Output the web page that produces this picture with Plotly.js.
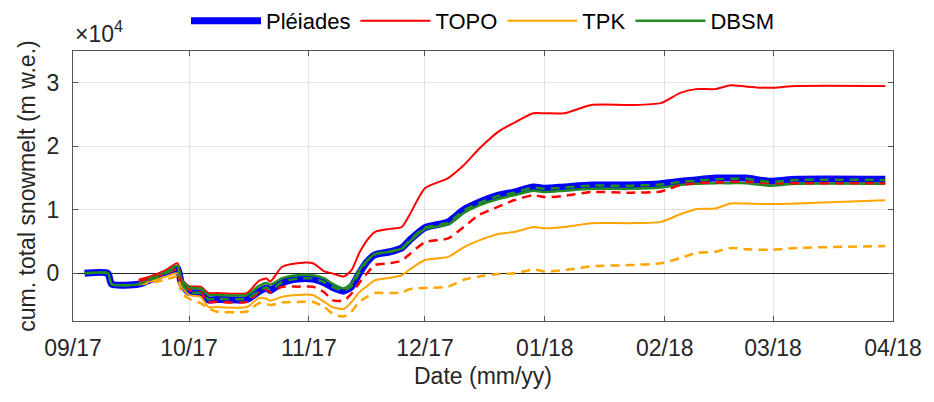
<!DOCTYPE html>
<html>
<head>
<meta charset="utf-8">
<script src="https://cdn.plot.ly/plotly-3.0.1.min.js"></script>
<style>html,body{margin:0;padding:0;background:#fff;}#chart{width:934px;height:402px;}</style>
</head>
<body>
<div id="chart"></div>
<script>
// Cumulative total snowmelt, values in units of 10^4 m w.e.
const dates = ['2017-09-04','2017-09-10','2017-09-11','2017-09-18','2017-09-21','2017-09-25','2017-09-28','2017-09-29',
  '2017-10-01','2017-10-04','2017-10-06','2017-10-08','2017-10-16','2017-10-19','2017-10-21','2017-10-22','2017-10-25','2017-10-29',
  '2017-11-02','2017-11-05','2017-11-07','2017-11-10','2017-11-12','2017-11-14','2017-11-16','2017-11-18','2017-11-22','2017-11-25','2017-11-27',
  '2017-12-01','2017-12-07','2017-12-11','2017-12-15','2017-12-20','2017-12-24','2017-12-29',
  '2018-01-01','2018-01-06','2018-01-13','2018-01-23','2018-01-31',
  '2018-02-05','2018-02-09','2018-02-14','2018-02-18','2018-02-22','2018-02-28','2018-03-07','2018-03-30'];

const pleiades = [0,0,-0.17,-0.17,-0.1,0.0,0.08,-0.15,
  -0.3,-0.31,-0.42,-0.41,-0.41,-0.29,-0.23,-0.27,-0.15,-0.09,
  -0.09,-0.15,-0.22,-0.28,-0.21,0.0,0.18,0.29,0.34,0.4,0.52,
  0.72,0.81,1.0,1.12,1.23,1.28,1.36,
  1.34,1.36,1.39,1.39,1.41,
  1.45,1.47,1.5,1.5,1.5,1.45,1.48,1.48];

const topoSolid = [null,null,null,-0.1,-0.05,0.05,0.16,-0.08,
  -0.2,-0.21,-0.31,-0.31,-0.31,-0.12,-0.08,-0.13,0.1,0.16,
  0.16,0.03,0.0,-0.05,0.05,0.32,0.52,0.65,0.7,0.73,0.92,
  1.34,1.5,1.7,1.96,2.23,2.37,2.52,
  2.52,2.52,2.65,2.65,2.68,
  2.84,2.9,2.9,2.96,2.94,2.92,2.95,2.95];

const topoDashed = [null,null,null,-0.12,-0.08,0.0,0.06,-0.18,
  -0.26,-0.3,-0.45,-0.45,-0.45,-0.3,-0.25,-0.3,-0.21,-0.21,
  -0.21,-0.3,-0.42,-0.43,-0.32,-0.15,0.0,0.13,0.16,0.2,0.3,
  0.49,0.55,0.73,0.92,1.05,1.15,1.23,
  1.2,1.22,1.28,1.27,1.29,
  1.39,1.42,1.43,1.44,1.44,1.42,1.42,1.42];

const tpkSolid = [null,null,null,-0.15,-0.13,-0.05,0.0,-0.2,
  -0.34,-0.37,-0.53,-0.53,-0.53,-0.39,-0.4,-0.43,-0.37,-0.34,
  -0.34,-0.45,-0.53,-0.56,-0.45,-0.3,-0.2,-0.11,-0.07,-0.03,0.06,
  0.21,0.26,0.41,0.52,0.62,0.65,0.73,
  0.71,0.73,0.79,0.79,0.81,
  0.93,1.01,1.02,1.1,1.1,1.09,1.1,1.15];

const tpkDashed = [null,null,null,-0.17,-0.15,-0.1,-0.05,-0.3,
  -0.4,-0.47,-0.55,-0.6,-0.6,-0.47,-0.48,-0.5,-0.46,-0.45,
  -0.45,-0.53,-0.63,-0.68,-0.6,-0.45,-0.37,-0.31,-0.31,-0.3,-0.25,
  -0.23,-0.21,-0.1,-0.05,-0.01,0.0,0.06,
  0.03,0.05,0.11,0.13,0.16,
  0.24,0.32,0.34,0.4,0.38,0.37,0.4,0.43];

const dbsmSolid = [0,0,-0.17,-0.17,-0.08,0.02,0.12,-0.1,
  -0.22,-0.24,-0.34,-0.34,-0.34,-0.2,-0.15,-0.18,-0.08,-0.03,
  -0.03,-0.08,-0.16,-0.24,-0.16,0.05,0.2,0.3,0.34,0.39,0.5,
  0.7,0.77,0.95,1.07,1.17,1.23,1.3,
  1.28,1.3,1.33,1.33,1.35,
  1.39,1.41,1.42,1.42,1.42,1.38,1.41,1.41];

const dbsmDashed = [0,0,-0.17,-0.17,-0.1,0.0,0.08,-0.15,
  -0.3,-0.31,-0.41,-0.4,-0.4,-0.28,-0.22,-0.26,-0.14,-0.08,
  -0.08,-0.14,-0.21,-0.27,-0.2,0.01,0.19,0.3,0.35,0.4,0.52,
  0.72,0.8,0.99,1.11,1.22,1.27,1.35,
  1.33,1.35,1.38,1.38,1.4,
  1.44,1.46,1.48,1.49,1.49,1.44,1.47,1.47];

const seriesNames = ['Pléiades','TOPO','TPK','DBSM'];
const tickFormat = '%m/%y';

const BLUE='#0000ff', RED='#ff0000', ORANGE='#ffa500', GREEN='#228b22';
const dashPat = '9px,6px';
const SHAPE = 'spline', SMOOTH = 0.6;

const traces = [
  {x:dates, y:pleiades, name:seriesNames[0], mode:'lines', line:{color:BLUE, width:7, shape:SHAPE, smoothing:SMOOTH}, showlegend:true},
  {x:dates, y:topoSolid, name:seriesNames[1], mode:'lines', line:{color:RED, width:2, shape:SHAPE, smoothing:SMOOTH}, showlegend:true},
  {x:dates, y:tpkSolid, name:seriesNames[2], mode:'lines', line:{color:ORANGE, width:2, shape:SHAPE, smoothing:SMOOTH}, showlegend:true},
  {x:dates, y:dbsmSolid, name:seriesNames[3], mode:'lines', line:{color:GREEN, width:2.5, shape:SHAPE, smoothing:SMOOTH}, showlegend:true},
  {x:dates, y:topoDashed, name:seriesNames[1]+' (dashed)', mode:'lines', line:{color:RED, width:2.5, dash:dashPat, shape:SHAPE, smoothing:SMOOTH}, showlegend:false},
  {x:dates, y:tpkDashed, name:seriesNames[2]+' (dashed)', mode:'lines', line:{color:ORANGE, width:2.5, dash:dashPat, shape:SHAPE, smoothing:SMOOTH}, showlegend:false},
  {x:dates, y:dbsmDashed, name:seriesNames[3]+' (dashed)', mode:'lines', line:{color:GREEN, width:2.5, dash:dashPat, shape:SHAPE, smoothing:SMOOTH}, showlegend:false}
];

const FONT = 'Liberation Sans, Arial, Helvetica, sans-serif';

const layout = {
  width:934, height:402,
  margin:{l:73, r:41, t:51, b:81, autoexpand:false},
  paper_bgcolor:'#ffffff', plot_bgcolor:'#ffffff',
  font:{family:FONT, color:'#262626', size:22},
  showlegend:true,
  legend:{orientation:'h', x:0.5, xanchor:'center', xref:'paper', y:1, yanchor:'top', yref:'container',
    itemwidth:70,
    font:{family:FONT, size:22, color:'#000'}, bgcolor:'rgba(0,0,0,0)', traceorder:'normal'},
  xaxis:{type:'date', range:['2017-09-01','2018-04-01'], dtick:'M1', tick0:'2017-09-01', tickformat:tickFormat,
    showgrid:true, gridcolor:'#e3e3e3', gridwidth:1,
    showline:true, linecolor:'#555', linewidth:1, mirror:'ticks',
    ticks:'inside', ticklen:5, tickcolor:'#555',
    tickfont:{family:FONT, size:23, color:'#262626'}, ticklabelstandoff:6,
    title:{text:'Date (mm/yy)', font:{family:FONT, size:23, color:'#262626'}, standoff:8},
    zeroline:false},
  yaxis:{range:[-0.75,3.5], tickvals:[0,1,2,3], ticktext:['0','1','2','3'],
    showgrid:true, gridcolor:'#e3e3e3', gridwidth:1,
    showline:true, linecolor:'#555', linewidth:1, mirror:'ticks',
    ticks:'inside', ticklen:5, tickcolor:'#555',
    tickfont:{family:FONT, size:23, color:'#262626'}, ticklabelstandoff:8,
    title:{text:'cum. total snowmelt (m w.e.)', font:{family:FONT, size:23, color:'#262626'}, standoff:4},
    zeroline:true, zerolinecolor:'#262626', zerolinewidth:1.5},
  annotations:[{xref:'paper', yref:'paper', x:0, y:1, xanchor:'left', yanchor:'bottom', yshift:2, showarrow:false,
    text:'×10<sup>4</sup>', font:{family:FONT, size:23, color:'#262626'}}]
};

Plotly.newPlot('chart', traces, layout, {displayModeBar:false, staticPlot:true});
</script>
</body>
</html>
